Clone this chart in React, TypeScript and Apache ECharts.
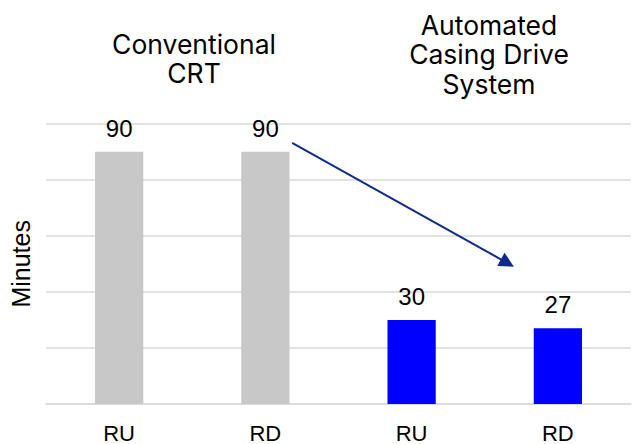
import React, { useEffect, useRef } from "react";
import * as echarts from "echarts";

const categories = ["RU", "RD", "RU", "RD"];
const values = [90, 90, 30, 27];
const barColors = ["#c8c8c8", "#c8c8c8", "#0000ff", "#0000ff"];
const groupTitles = ["Conventional\nCRT", "Automated\nCasing Drive\nSystem"];
const arrowStart = [1.183, 93.2];
const arrowEnd = [2.655, 50.3];

const TITLE_FONT = "Inter";
const FONT = "Liberation Sans";

export default function App() {
  const ref = useRef<HTMLDivElement>(null);
  useEffect(() => {
    if (!ref.current) return;
    const chart = echarts.init(ref.current, undefined, { renderer: "svg" });
    const gridLeft = 46;
    const gridRight = 5;
    chart.setOption({
      animation: false,
      textStyle: { fontFamily: FONT },
      grid: { left: gridLeft, right: gridRight, top: 123.7, bottom: 37 },
      xAxis: [
        {
          type: "category",
          data: categories,
          axisLine: { show: true, lineStyle: { color: "#d9d9d9", width: 1.5 } },
          axisTick: { show: false },
          axisLabel: { color: "#000", fontSize: 22, margin: 18, fontFamily: FONT },
        },
        {
          type: "value",
          min: -0.5,
          max: 3.5,
          show: false,
        },
      ],
      yAxis: {
        type: "value",
        min: 0,
        max: 100,
        interval: 20,
        name: "Minutes",
        nameLocation: "middle",
        nameGap: 13,
        nameTextStyle: { color: "#000", fontSize: 25, fontFamily: FONT },
        axisLabel: { show: false },
        axisLine: { show: false },
        axisTick: { show: false },
        splitLine: { lineStyle: { color: "#d9d9d9", width: 1.5 } },
      },
      series: [
        {
          type: "bar",
          xAxisIndex: 0,
          barWidth: "33%",
          data: values.map((v, i) => ({ value: v, itemStyle: { color: barColors[i] } })),
          label: {
            show: true,
            position: "top",
            distance: 11.5,
            color: "#000",
            fontSize: 24,
            fontFamily: FONT,
          },
        },
        {
          type: "scatter",
          xAxisIndex: 1,
          symbolSize: 0,
          data: [arrowStart, arrowEnd],
          silent: true,
          markLine: {
            silent: true,
            symbol: ["none", "triangle"],
            symbolSize: [15, 15],
            label: { show: false },
            lineStyle: { color: "#0f2b8c", width: 2, type: "solid" },
            data: [[{ coord: arrowStart }, { coord: arrowEnd }]],
          },
        },
      ],
      graphic: groupTitles.map((t, gi) => ({
        type: "text",
        x: gi === 0 ? 194 : 489,
        y: gi === 0 ? 29 : 10,
        style: {
          text: t,
          fill: "#000",
          font: `26.5px ${TITLE_FONT}`,
          lineHeight: 29.5,
          align: "center",
          verticalAlign: "top",
        },
      })),
    });
    return () => chart.dispose();
  }, []);
  return <div ref={ref} style={{ width: 636, height: 444, position: "absolute", left: 0, top: 0 }} />;
}
